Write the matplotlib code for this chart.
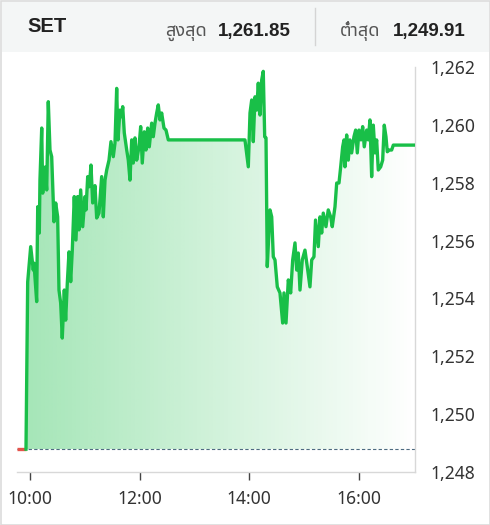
import numpy as np
import matplotlib.pyplot as plt
from matplotlib.patches import Rectangle
from matplotlib.lines import Line2D
from matplotlib.colors import to_rgb

# SET index, intraday (decimal hours)
hours = [9.763, 9.927, 9.958, 10.013, 10.060, 10.073, 10.122, 10.141, 10.170, 10.182,
         10.214, 10.232, 10.274, 10.305, 10.334, 10.365, 10.396, 10.438, 10.469, 10.505,
         10.529, 10.560, 10.589, 10.626, 10.651, 10.681, 10.712, 10.743, 10.772, 10.808,
         10.839, 10.870, 10.894, 10.925, 10.962, 11.004, 11.022, 11.053, 11.082, 11.113,
         11.144, 11.186, 11.217, 11.259, 11.308, 11.338, 11.369, 11.400, 11.442, 11.478,
         11.520, 11.551, 11.582, 11.606, 11.642, 11.673, 11.692, 11.721, 11.765, 11.794,
         11.825, 11.856, 11.885, 11.916, 11.947, 11.989, 12.020, 12.049, 12.086, 12.117,
         12.148, 12.177, 12.221, 12.250, 12.281, 12.312, 12.341, 12.372, 12.403, 12.445,
         12.482, 12.524, 13.923, 13.984, 14.015, 14.046, 14.075, 14.106, 14.137, 14.166,
         14.197, 14.228, 14.257, 14.283, 14.307, 14.330, 14.380, 14.411, 14.440, 14.471,
         14.513, 14.562, 14.611, 14.635, 14.672, 14.714, 14.757, 14.794, 14.836, 14.867,
         14.896, 14.927, 14.969, 15.018, 15.060, 15.109, 15.141, 15.182, 15.211, 15.261,
         15.292, 15.323, 15.352, 15.401, 15.443, 15.487, 15.516, 15.566, 15.597, 15.639,
         15.670, 15.706, 15.730, 15.748, 15.779, 15.808, 15.839, 15.870, 15.912, 15.943,
         15.973, 16.004, 16.040, 16.071, 16.100, 16.144, 16.173, 16.204, 16.235, 16.265,
         16.296, 16.326, 16.356, 16.400, 16.436, 16.465, 16.496, 16.520, 16.557, 16.600,
         16.630, 17.026]
index_values = [1248.79, 1248.79, 1254.57, 1255.79, 1254.98, 1255.22, 1253.89, 1257.17, 1256.26, 1258.09,
                1259.89, 1257.64, 1258.54, 1257.75, 1260.80, 1259.13, 1258.90, 1256.65, 1257.30, 1256.82,
                1254.29, 1253.84, 1252.63, 1254.29, 1253.25, 1254.53, 1255.61, 1254.58, 1255.67, 1257.52,
                1256.02, 1257.52, 1256.37, 1257.75, 1256.48, 1257.52, 1257.06, 1258.21, 1257.86, 1258.61,
                1257.30, 1257.90, 1256.78, 1256.95, 1258.21, 1256.82, 1258.09, 1258.44, 1258.78, 1259.42,
                1258.90, 1259.37, 1261.26, 1259.48, 1260.51, 1260.28, 1260.63, 1259.72, 1259.13, 1258.78,
                1258.09, 1259.48, 1258.68, 1259.55, 1258.78, 1259.24, 1259.94, 1258.68, 1259.76, 1259.13,
                1259.89, 1259.24, 1260.06, 1259.59, 1260.06, 1260.41, 1260.69, 1260.17, 1260.41, 1259.89,
                1259.82, 1259.48, 1259.48, 1258.55, 1260.41, 1260.86, 1259.42, 1260.97, 1260.51, 1261.44,
                1260.34, 1261.55, 1261.85, 1259.59, 1259.55, 1255.10, 1257.06, 1256.82, 1255.44, 1255.33,
                1254.40, 1254.19, 1253.15, 1254.19, 1253.15, 1254.64, 1254.19, 1255.33, 1255.92, 1254.98,
                1255.57, 1254.29, 1255.33, 1255.67, 1255.10, 1254.40, 1255.33, 1255.44, 1256.71, 1255.79,
                1256.82, 1256.26, 1256.95, 1256.48, 1257.06, 1256.82, 1256.48, 1257.17, 1257.99, 1257.99,
                1258.55, 1259.24, 1259.48, 1258.55, 1259.65, 1258.78, 1259.48, 1259.03, 1259.59, 1259.82,
                1259.03, 1259.82, 1259.48, 1259.94, 1259.24, 1259.82, 1259.48, 1260.17, 1258.21, 1259.99,
                1259.03, 1259.48, 1258.44, 1258.55, 1258.78, 1259.99, 1259.59, 1259.07, 1259.13, 1259.13,
                1259.30, 1259.30]
prev_close = 1248.79

symbol = "SET"
high_label, high_value = "สูงสุด", "1,261.85"
low_label, low_value = "ต่ำสุด", "1,249.91"

time_ticks = [10, 12, 14, 16]
time_labels = ["10:00", "12:00", "14:00", "16:00"]
price_ticks = [1248, 1250, 1252, 1254, 1256, 1258, 1260, 1262]

GREEN = '#19bf48'
RED = '#e5534b'
THAI = ['Noto Sans Thai', 'Loma', 'Garuda', 'Tlwg Typo', 'Noto Sans', 'DejaVu Sans']
plt.rcParams['font.family'] = ['Noto Sans', 'DejaVu Sans']

W, H = 490, 525
fig = plt.figure(figsize=(W / 100, H / 100), dpi=100)


def fx(px):
    return px / W


def fy(py):
    return 1 - py / H


# outer frame and header strip
fig.add_artist(Rectangle((fx(0.5), fy(524.5)), fx(489), 524 / H, transform=fig.transFigure,
                         fc='white', ec='#dcdcdc', lw=1.2, zorder=0))
fig.add_artist(Rectangle((fx(1.5), fy(52)), fx(487), 50.5 / H, transform=fig.transFigure,
                         fc='#f4f6f6', ec='none', zorder=0))
fig.add_artist(Line2D([fx(315), fx(315)], [fy(8), fy(45)], transform=fig.transFigure,
                      color='#d4d4d4', lw=1))

fig.text(fx(27), fy(32), symbol, fontsize=14.5, fontweight='bold', color='#222222',
         family=['Liberation Sans', 'DejaVu Sans'], va='baseline')
fig.text(fx(207), fy(36), high_label, fontsize=13, color='#555555', family=THAI,
         ha='right', va='baseline')
fig.text(fx(218), fy(36), high_value, fontsize=13.5, fontweight='bold', color='#222222',
         family=['Liberation Sans', 'DejaVu Sans'], va='baseline')
fig.text(fx(380), fy(36), low_label, fontsize=13, color='#555555', family=THAI,
         ha='right', va='baseline')
fig.text(fx(393), fy(36), low_value, fontsize=13.5, fontweight='bold', color='#222222',
         family=['Liberation Sans', 'DejaVu Sans'], va='baseline')

ax = fig.add_axes([fx(17), fy(472), fx(415) - fx(17), (472 - 67) / H])
ax.patch.set_alpha(0)
x0, x1 = hours[0], hours[-1]

# gradient area under the line, clipped to the fill polygon
poly = ax.fill_between(hours[1:], index_values[1:], prev_close, facecolor='none', edgecolor='none')
rgba = np.zeros((1, 256, 4))
rgba[..., :3] = to_rgb(GREEN)
rgba[..., 3] = np.linspace(0.4, 0.0, 256)
img = ax.imshow(rgba, extent=[x0, x1, prev_close, 1262], aspect='auto', origin='lower',
                interpolation='bilinear', zorder=1)
img.set_clip_path(poly.get_paths()[0], transform=ax.transData)

ax.axhline(prev_close, color='#4d6b80', lw=0.8, ls=(0, (3, 2)), zorder=2)
ax.plot(hours[:2], index_values[:2], color=RED, lw=2.4, solid_capstyle='butt', zorder=3)
ax.plot(hours[1:], index_values[1:], color=GREEN, lw=2.4, zorder=4)

ax.set_xlim(x0, x1)
ax.set_ylim(1248, 1262)
ax.set_xticks(time_ticks)
ax.set_xticklabels(time_labels)
ax.set_yticks(price_ticks)
ax.set_yticklabels([f"{v:,}" for v in price_ticks])
ax.yaxis.tick_right()

for s in ['top', 'left']:
    ax.spines[s].set_visible(False)
for s in ['right', 'bottom']:
    ax.spines[s].set_color('#d8d8d8')
    ax.spines[s].set_linewidth(1)

ax.tick_params(axis='y', length=0, pad=11, labelsize=12.6, labelcolor='#333333')
ax.tick_params(axis='x', length=6, width=1, color='#444444', pad=7,
               labelsize=12.6, labelcolor='#333333')

fig.savefig('out.png', dpi=100)
